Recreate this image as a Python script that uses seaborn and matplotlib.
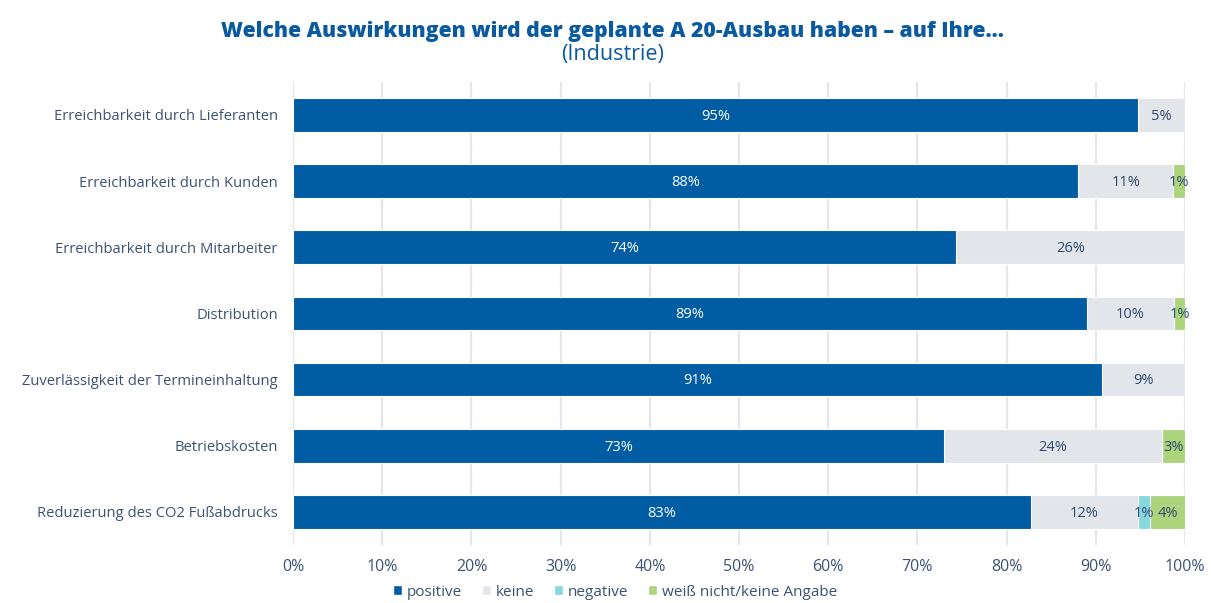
import numpy as np
import pandas as pd
import seaborn as sns
import matplotlib.pyplot as plt
from matplotlib.patches import Patch
from matplotlib.ticker import FuncFormatter

# -------------------------
# Data
# -------------------------
categories = [
    "Erreichbarkeit durch Lieferanten",
    "Erreichbarkeit durch Kunden",
    "Erreichbarkeit durch Mitarbeiter",
    "Distribution",
    "Zuverlässigkeit der Termineinhaltung",
    "Betriebskosten",
    "Reduzierung des CO2 Fußabdrucks",
]
positive = [94.7, 88.0, 74.3, 89.0, 90.7, 73.0, 82.7]
keine = [5.3, 10.7, 25.7, 9.8, 9.3, 24.4, 12.0]
negative = [0.0, 0.0, 0.0, 0.0, 0.0, 0.0, 1.4]
weiss_nicht = [0.0, 1.3, 0.0, 1.2, 0.0, 2.6, 3.9]

series_names = ["positive", "keine", "negative", "weiß nicht/keine Angabe"]
colors = ["#005ca3", "#e2e6ea", "#86d8de", "#acd47c"]
text_colors = ["white", "#2d4a6f", "#2d4a6f", "#2d4a6f"]

df = pd.DataFrame({
    "category": categories,
    "positive": positive,
    "keine": keine,
    "negative": negative,
    "weiss": weiss_nicht,
})
cols = ["positive", "keine", "negative", "weiss"]
cum = df[cols].cumsum(axis=1)

sns.set_style("white")
plt.rcParams["font.family"] = ["Open Sans", "DejaVu Sans"]

fig = plt.figure(figsize=(12.11, 6.03), dpi=100)
ax = fig.add_axes([0.242, 0.0962, 0.7365, 0.768])

# stacked bars: draw cumulative totals from the back to the front
for col, color in reversed(list(zip(cols, colors))):
    sns.barplot(x=cum[col], y=df["category"], color=color, orient="h",
                width=0.51, edgecolor="white", linewidth=0.8, ax=ax,
                saturation=1)

# segment labels
for i in range(len(categories)):
    start = 0
    for col, tc in zip(cols, text_colors):
        v = df.loc[i, col]
        if v > 0:
            ax.text(start + v / 2, i + 0.02, f"{round(v):.0f}%", ha="center", va="center",
                    fontsize=10.5, color=tc)
        start += v

ax.set_xlim(0, 100)
ax.set_ylim(6.5, -0.5)
ax.set_xticks(np.arange(0, 101, 10))
ax.xaxis.set_major_formatter(FuncFormatter(lambda x, _: f"{x:.0f}%"))
ax.xaxis.grid(True, color="#e6e6e6", linewidth=1.6)
ax.set_axisbelow(True)
ax.set_xlabel("")
ax.set_ylabel("")
for s in ax.spines.values():
    s.set_visible(False)
ax.tick_params(axis="x", labelsize=11.5, colors="#3b5275", length=0, pad=10)
ax.tick_params(axis="y", labelsize=10.6, colors="#3b5275", length=0, pad=11)

fig.text(0.506, 0.948, "Welche Auswirkungen wird der geplante A 20-Ausbau haben – auf Ihre…",
         ha="center", va="center", fontsize=15.2, fontweight=800, color="#0a5aa0")
fig.text(0.506, 0.909, "(Industrie)", ha="center", va="center", fontsize=15.5, color="#0a5aa0")

handles = [Patch(facecolor=c, label=n) for c, n in zip(colors, series_names)]
fig.legend(handles=handles, loc="center", bbox_to_anchor=(0.508, 0.018), ncol=4,
           frameon=False, fontsize=11, handlelength=0.6, handleheight=0.6,
           handletextpad=0.3, columnspacing=1.3, labelcolor="#3b5275")

fig.savefig("out.png", dpi=100)
